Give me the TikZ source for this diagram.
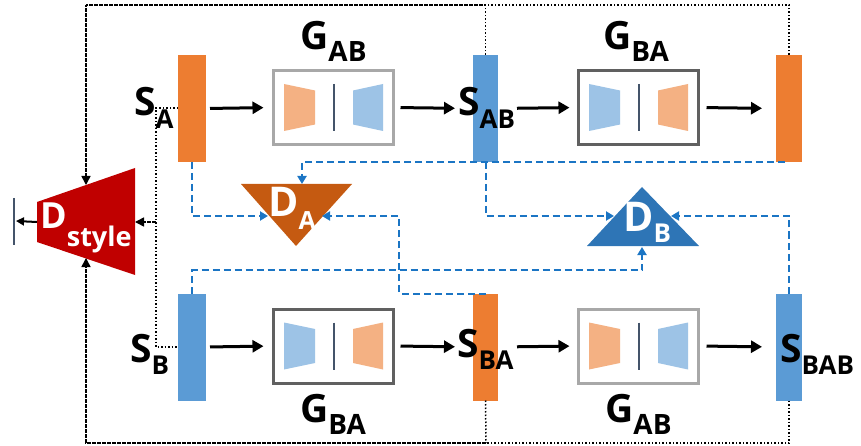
\documentclass[tikz,border=0pt]{standalone}
\usepackage{fontspec}
\setmainfont{Open Sans}
\usetikzlibrary{arrows.meta}
\definecolor{barO}{HTML}{ED7D31}
\definecolor{barB}{HTML}{5B9BD5}
\definecolor{lO}{HTML}{F4B183}
\definecolor{lB}{HTML}{9DC3E6}
\definecolor{dA}{HTML}{C55A11}
\definecolor{dB}{HTML}{2E75B6}
\definecolor{dS}{HTML}{C00000}
\definecolor{dash}{HTML}{1B75C4}
\definecolor{slate}{HTML}{44546A}
\definecolor{gL}{HTML}{A8A8A8}
\definecolor{gD}{HTML}{606060}
\newcommand\twolab[5]{{\fontsize{#1}{#1}\selectfont #2}\raisebox{-#5pt}{\fontsize{#3}{#3}\selectfont #4}}
\newcommand\genshapes[3]{%
  \begin{scope}[shift={#1}]
    \fill[#2] (-49.5,-23.5) -- (-18.5,-17) -- (-18.5,17) -- (-49.5,23.5) -- cycle;
    \draw[slate,line width=2pt] (0.5,-23.5) -- (0.5,23.5);
    \fill[#3] (19.5,-17) -- (49.5,-23.5) -- (49.5,23.5) -- (19.5,17) -- cycle;
  \end{scope}}
\begin{document}
\begin{tikzpicture}[x=1pt,y=-1pt,
  barbox/.style={draw=none,minimum width=#1,minimum height=107,inner sep=0pt,outer sep=0pt},
  genbox/.style={draw=#1,line width=3pt,fill=white,minimum width=120,minimum height=74,inner sep=0pt,outer sep=0pt},
  lab/.style={anchor=base west,inner sep=0pt,font=\bfseries},
  wlab/.style={anchor=base west,inner sep=0pt,font=\bfseries,text=white},
  blk/.style={line width=3pt,-{Triangle[length=11pt,width=12pt]}},
  dashB/.style={draw=dash,line width=2pt,dash pattern=on 7pt off 4pt,-{Triangle[length=8pt,width=9pt]}},
  dotL/.style={line width=1.6pt,dash pattern=on 1.6pt off 0.9pt},
  dotR/.style={line width=1.5pt,dash pattern=on 1.5pt off 2pt},
  tipk/.style={-{Triangle[length=9pt,width=9pt]}}
]
\useasboundingbox (0,0) rectangle (861,446);

% ---- bars ----
\node[barbox=28,fill=barO] (sA) at (192,108.5) {};
\node[barbox=25,fill=barB] (sAB) at (485.5,108.5) {};
\node[barbox=26,fill=barO] (rT) at (789,108.5) {};
\node[barbox=28,fill=barB] (sB) at (192,347) {};
\node[barbox=25,fill=barO] (sBA) at (485.5,347) {};
\node[barbox=26,fill=barB] (sBAB) at (789,347) {};

% ---- generator boxes ----
\node[genbox=gL] (g1) at (333.5,107.5) {};
\node[genbox=gD] (g2) at (638.5,107.5) {};
\node[genbox=gD] (g3) at (333.5,346) {};
\node[genbox=gL] (g4) at (638.5,346) {};
\genshapes{(333.5,107.5)}{lO}{lB}
\genshapes{(638.5,107.5)}{lB}{lO}
\genshapes{(333.5,346)}{lB}{lO}
\genshapes{(638.5,346)}{lO}{lB}

% ---- generator labels ----
\node[lab] (lg1) at (300,50) {\twolab{39}{G}{28}{AB}{12}};
\node[lab] (lg2) at (603,50) {\twolab{39}{G}{28}{BA}{12}};
\node[lab] (lg3) at (300,422) {\twolab{39}{G}{28}{BA}{12}};
\node[lab] (lg4) at (605,422) {\twolab{39}{G}{28}{AB}{12}};

% ---- black arrows ----
\draw[blk,shorten <=4pt,shorten >=10pt] (sA.east) -- (g1.west);
\draw[blk,shorten <=7pt,shorten >=18pt] (g1.east) -- (sAB.west);
\draw[blk,shorten <=19pt,shorten >=9pt] (sAB.east) -- (g2.west);
\draw[blk,shorten <=8pt,shorten >=14pt] (g2.east) -- (rT.west);
\draw[blk,shorten <=4pt,shorten >=10pt] (sB.east) -- (g3.west);
\draw[blk,shorten <=7pt,shorten >=18pt] (g3.east) -- (sBA.west);
\draw[blk,shorten <=19pt,shorten >=9pt] (sBA.east) -- (g4.west);
\draw[blk,shorten <=8pt,shorten >=14pt] (g4.east) -- (sBAB.west);

% ---- S labels ----
\node[lab] (lsA) at (134,116) {\twolab{39}{S}{26}{A}{13}};
\node[lab] (lsAB) at (458,116) {\twolab{39}{S}{26}{AB}{13}};
\node[lab] (lsB) at (130,362) {\twolab{39}{S}{26}{B}{12}};
\node[lab] (lsBA) at (457,357) {\twolab{39}{S}{26}{BA}{12}};
\node[lab] (lsBAB) at (780,362) {\twolab{39}{S}{26}{BAB}{12}};

% ---- discriminators ----
\fill[dA] (241,184) -- (352,184) -- (296,246) -- cycle;
\fill[dB] (642,187) -- (699,246) -- (587,246) -- cycle;
\fill[dS] (37,202) -- (135,168) -- (135,275) -- (37,242) -- cycle;
\node[wlab] (ldA) at (268,217) {\twolab{41}{D}{25}{A}{13}};
\node[wlab] (ldB) at (623,232) {\twolab{41}{D}{26}{B}{11}};
\node[wlab] (ldS) at (40,229) {\twolab{36}{D}{27}{style}{18}};

\coordinate (daL) at (268,216);
\coordinate (daR) at (322,216);
\coordinate (daT) at (302,184);
\coordinate (dbL) at (614,216);
\coordinate (dbR) at (671,216);
\coordinate (dbB) at (642,247);
\coordinate (dsT) at (86,185);
\coordinate (dsB) at (86,258);
\coordinate (dsR) at (135,222);
\coordinate (dsL) at (37,222);

% ---- blue dashed connectors ----
\draw[dashB] (sA.south) |- (daL);
\draw[dashB] ([xshift=-4pt]rT.south) -- (daT |- rT.south) -- (daT);
\draw[dashB] (sAB.south) |- (dbL);
\coordinate (m4) at (399,216);
\draw[dashB] (sBA.north) -| (m4) -- (daR);
\coordinate (m5) at (192,270);
\draw[dashB] (sB.north) -- (m5) -| (dbB);
\draw[dashB] (sBAB.north) |- (dbR);

% ---- dotted frame ----
\coordinate (tj) at (485.5,5);
\coordinate (bj) at (486,443);
\draw[dotR] (sAB.north) -- (tj);
\draw[dotR] (rT.north) |- (tj);
\draw[dotL,tipk] (tj) -| (dsT);
\draw[dotR] (sBA.south) -- (bj);
\draw[dotR] (sBAB.south) |- (bj);
\draw[dotL,tipk] (bj) -| (dsB);

% ---- S_A / S_B dotted feed ----
\coordinate (va) at (156,108);
\coordinate (vb) at (156,347);
\coordinate (vm) at (156,222);
\draw[dotR] (sA.west |- va) -- (va) -- (vb) -- (sB.west |- vb);
\draw[dotL,tipk] (vm) -- (dsR);

% ---- D_style output ----
\coordinate (outb) at (14,221);
\draw[slate,line width=2pt] (14,198) -- (14,245);
\draw[line width=2pt,-{Triangle[length=8pt,width=8pt]}] (dsL) -- ([xshift=2pt]outb);
\end{tikzpicture}
\end{document}
